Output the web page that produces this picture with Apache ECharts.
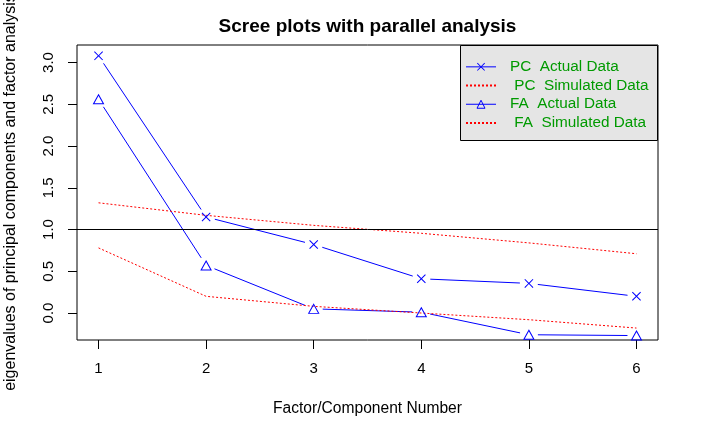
<!DOCTYPE html>
<html>
<head>
<meta charset="utf-8">
<script src="https://cdn.jsdelivr.net/npm/echarts@6/dist/echarts.min.js"></script>
<style>
html,body{margin:0;padding:0;background:#fff;}
#chart{width:722px;height:440px;}
</style>
</head>
<body>
<div id="chart"></div>
<script>
// ---- data ----
var factorNumbers = [1, 2, 3, 4, 5, 6];
var pcActual    = [3.08, 1.15, 0.82, 0.41, 0.355, 0.20];
var pcSimulated = [1.32, 1.17, 1.05, 0.955, 0.84, 0.71];
var faActual    = [2.56, 0.57, 0.05, 0.01, -0.26, -0.27];
var faSimulated = [0.78, 0.20, 0.08, 0.00, -0.08, -0.18];
var yTicks = [0, 0.5, 1, 1.5, 2, 2.5, 3];
var legendNames = ['PC  Actual Data', ' PC  Simulated Data', 'FA  Actual Data', ' FA  Simulated Data'];
var titleText = 'Scree plots with parallel analysis';
var xName = 'Factor/Component Number';
var yName = 'eigenvalues of principal components and factor analysis';

var FONT = 'Liberation Sans, Arial, sans-serif';
var BLUE = '#0000ff';
var RED = '#ff0000';
var GAP = 9;

function pairs(ys) { return factorNumbers.map(function (x, i) { return [x, ys[i]]; }); }
function segments(ys) {
  var out = [];
  for (var i = 0; i < factorNumbers.length - 1; i++) {
    out.push([factorNumbers[i], ys[i], factorNumbers[i + 1], ys[i + 1]]);
  }
  return out;
}
function gapSegment(params, api) {
  var p1 = api.coord([api.value(0), api.value(1)]);
  var p2 = api.coord([api.value(2), api.value(3)]);
  var dx = p2[0] - p1[0], dy = p2[1] - p1[1];
  var L = Math.sqrt(dx * dx + dy * dy);
  if (L <= 2 * GAP) return null;
  var ux = dx / L, uy = dy / L;
  return {
    type: 'line',
    shape: { x1: p1[0] + ux * GAP, y1: p1[1] + uy * GAP, x2: p2[0] - ux * GAP, y2: p2[1] - uy * GAP },
    style: { stroke: BLUE, lineWidth: 1 }
  };
}
var crossPath = 'path://M0,0.8L0.8,0L5,4.2L9.2,0L10,0.8L5.8,5L10,9.2L9.2,10L5,5.8L0.8,10L0,9.2L4.2,5Z';

var chart = echarts.init(document.getElementById('chart'), null, { renderer: 'canvas' });
chart.setOption({
  animation: false,
  backgroundColor: '#ffffff',
  textStyle: { fontFamily: FONT },
  grid: { left: 77, top: 45, right: 64, bottom: 100, outerBoundsMode: 'none', containLabel: false,
    show: true, borderColor: '#000', borderWidth: 1, backgroundColor: 'transparent' },
  graphic: [
    { type: 'text', x: 367.5, y: 26.7, z: 10,
      style: { text: titleText, textAlign: 'center', textVerticalAlign: 'middle', font: 'bold 19px ' + FONT, fill: '#000' } },
    { type: 'rect', z: 3, shape: { x: 460.5, y: 45.5, width: 197, height: 95 },
      style: { fill: '#e5e5e5', stroke: '#000', lineWidth: 1 } }
  ],
  legend: {
    orient: 'vertical', left: 460, top: 45, z: 5,
    padding: [12.5, 0, 0, 5], itemWidth: 30, itemHeight: 10, itemGap: 0,
    selectedMode: false,
    textStyle: { color: '#009a00', fontSize: 15.3, lineHeight: 18.7, fontFamily: FONT, padding: [0, 0, 0, 9] },
    data: [
      { name: legendNames[0], itemStyle: { color: BLUE, borderWidth: 0 },
        lineStyle: { color: BLUE, width: 1, opacity: 1, type: 'solid' } },
      { name: legendNames[1], itemStyle: { opacity: 0 } },
      { name: legendNames[2], itemStyle: { color: 'rgba(0,0,0,0)', borderColor: BLUE, borderWidth: 1 },
        lineStyle: { color: BLUE, width: 1, opacity: 1, type: 'solid' } },
      { name: legendNames[3], itemStyle: { opacity: 0 } }
    ]
  },
  xAxis: {
    type: 'value', min: 0.8, max: 6.2,
    name: xName, nameLocation: 'middle', nameGap: 61,
    nameTextStyle: { fontSize: 15.6, color: '#000', fontFamily: FONT },
    axisLine: { show: false, onZero: false },
    splitLine: { show: false },
    axisTick: { show: true, length: 9, lineStyle: { color: '#000', width: 1 }, customValues: factorNumbers },
    axisLabel: { customValues: factorNumbers, margin: 21, fontSize: 15, color: '#000', fontFamily: FONT,
      formatter: function (v) { return String(v); } }
  },
  yAxis: {
    type: 'value', min: -0.323, max: 3.21,
    name: yName, nameLocation: 'middle', nameGap: 58.5,
    nameTextStyle: { fontSize: 16, color: '#000', fontFamily: FONT },
    axisLine: { show: false, onZero: false },
    splitLine: { show: false },
    axisTick: { show: true, length: 9, lineStyle: { color: '#000', width: 1 }, customValues: yTicks },
    axisLabel: { customValues: yTicks, rotate: 90, margin: 20.5, fontSize: 15, color: '#000', fontFamily: FONT,
      formatter: function (v) { return v.toFixed(1); } }
  },
  series: [
    { name: legendNames[0], type: 'line', data: pairs(pcActual), z: 3,
      symbol: crossPath, symbolSize: 9,
      itemStyle: { color: BLUE, borderWidth: 0 },
      lineStyle: { color: BLUE, opacity: 0 } },
    { name: legendNames[1], type: 'line', data: pairs(pcSimulated), z: 2,
      symbol: 'none', itemStyle: { color: RED }, lineStyle: { color: RED, width: 1, type: [2, 2] },
      markLine: { silent: true, symbol: ['none', 'none'], label: { show: false },
        lineStyle: { color: '#000', width: 1, type: 'solid' }, data: [{ yAxis: 1 }] } },
    { name: legendNames[2], type: 'line', data: pairs(faActual), z: 3,
      symbol: 'triangle', symbolSize: [10, 9],
      itemStyle: { color: 'rgba(0,0,0,0)', borderColor: BLUE, borderWidth: 1 },
      lineStyle: { color: BLUE, opacity: 0 } },
    { name: legendNames[3], type: 'line', data: pairs(faSimulated), z: 2,
      symbol: 'none', itemStyle: { color: RED }, lineStyle: { color: RED, width: 1, type: [2, 2] } },
    { name: 'pcSegments', type: 'custom', renderItem: gapSegment, data: segments(pcActual),
      encode: { x: [0, 2], y: [1, 3] }, z: 2, silent: true },
    { name: 'faSegments', type: 'custom', renderItem: gapSegment, data: segments(faActual),
      encode: { x: [0, 2], y: [1, 3] }, z: 2, silent: true }
  ]
});
</script>
</body>
</html>
